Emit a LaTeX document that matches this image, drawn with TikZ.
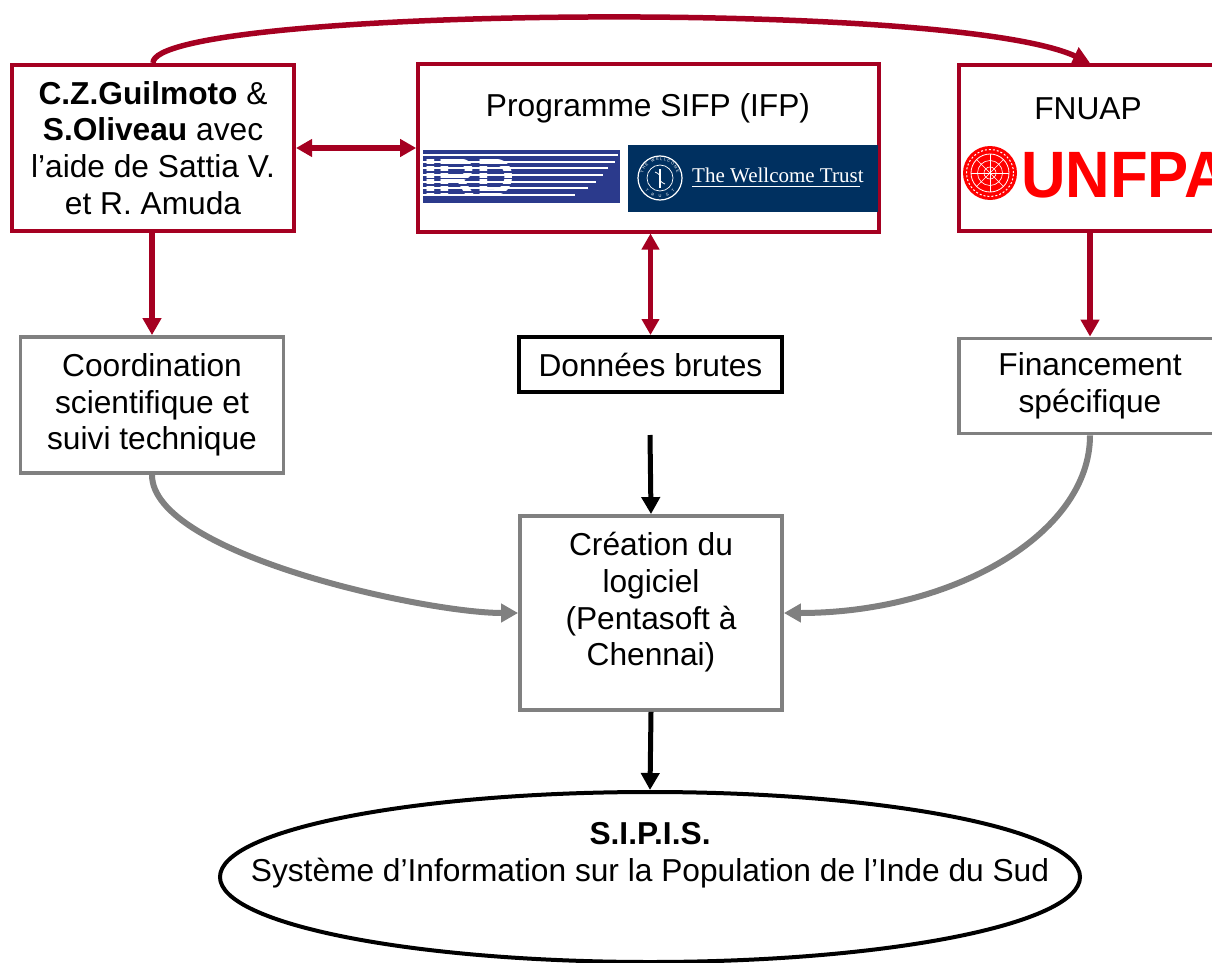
\documentclass[tikz,border=0pt]{standalone}
\usepackage{fontspec}
\usepackage{graphicx}
\setmainfont{Liberation Sans}
\newfontfamily\wtfont{Liberation Serif}
\usetikzlibrary{arrows.meta,shapes.geometric,decorations.text,calc}
\definecolor{dred}{RGB}{165,0,33}
\definecolor{mgray}{RGB}{128,128,128}
\definecolor{irdblue}{RGB}{43,58,140}
\definecolor{wtnavy}{RGB}{0,48,96}
\definecolor{unred}{RGB}{255,0,0}
\begin{document}
\begin{tikzpicture}[x=1pt,y=1pt,
  every node/.style={font=\fontsize{31.7}{36.7}\selectfont, inner sep=0pt},
  redbox/.style={draw=dred, line width=4pt, fill=white, rectangle},
  graybox/.style={draw=mgray, line width=3.8pt, fill=white, rectangle},
  blackbox/.style={draw=black, line width=4pt, fill=white, rectangle},
  mytip/.style={-{Triangle[length=17pt,width=18pt]}},
  redarrow/.style={draw=dred, line width=5.5pt, mytip},
  redboth/.style={draw=dred, line width=5.5pt, {Triangle[length=16pt,width=17pt]}-{Triangle[length=16pt,width=17pt]}},
  grayarrow/.style={draw=mgray, line width=6pt, mytip},
  blackarrow/.style={draw=black, line width=5pt, mytip},
]
\useasboundingbox (0,0) rectangle (1212,-963);
\clip (0,0) rectangle (1212,-963);

% ---- top row boxes
\node[redbox, minimum width=282pt, minimum height=166pt, align=center] (lb) at (153,-148)
  {\textbf{C.Z.Guilmoto} \&\\\textbf{S.Oliveau} avec\\l’aide de Sattia V.\\et R. Amuda};
\node[redbox, minimum width=461pt, minimum height=167pt] (mb) at (648.7,-148) {};
\node[redbox, minimum width=262pt, minimum height=166pt] (rb) at (1090,-148) {};

\node[anchor=base] (mbt) at (648,-117) {Programme SIFP (IFP)};
\node[anchor=base] (rbt) at (1088,-120) {FNUAP};

% ---- IRD logo
\fill[irdblue] (423,-150) rectangle (620,-203);
\foreach \yy/\xe in {155/618,161.7/615,168.3/608,175/603,181.7/596,188.3/588,195/575}{
  \draw[white, line width=1.8pt] (423,-\yy) -- (\xe,-\yy);
}
\node[anchor=base west, text=white, font=\bfseries\fontsize{53}{53}\selectfont] (ird) at (423,-195) {IRD};
\foreach \yy in {158.3,165,171.7,178.3,185,191.7}{
  \draw[irdblue, line width=1.6pt] (423,-\yy) -- (517,-\yy);
}

% ---- Wellcome Trust logo
\fill[wtnavy] (628,-145) rectangle (878,-212);
\draw[white, line width=1.2pt] (660,-178) circle (22);
\draw[white, line width=0.7pt] (660,-178) circle (13);
\draw[white, line width=1.2pt] (660,-169) -- (660,-188);
\draw[white, line width=0.8pt] (655,-172) .. controls (665,-176) and (655,-180) .. (665,-184);
\path[decorate, decoration={text along path, text align=fit to path,
  text={|\fontsize{4}{5}\selectfont\color{white}|THE WELLCOME}}]
  ($(660,-178)+(165:17.5)$) arc (165:15:17.5);
\path[decorate, decoration={text along path, text align=fit to path,
  text={|\fontsize{4}{5}\selectfont\color{white}|TRUST}}]
  ($(660,-178)+(220:19.5)$) arc (220:320:19.5);
\node[anchor=base west, text=white, font=\wtfont\fontsize{21}{21}\selectfont] (wt) at (692,-182) {The Wellcome Trust};
\draw[white, line width=0.8pt] (692,-186) -- (860,-186);

% ---- UNFPA logo
\fill[unred] (990,-173) circle (27);
\draw[white, line width=1pt, dash pattern=on 2pt off 2pt] (990,-173) circle (23.5);
\draw[white, line width=0.8pt] (990,-173) circle (19);
\draw[white, line width=0.6pt] (990,-173) circle (12.5);
\draw[white, line width=0.6pt] (990,-173) circle (6);
\foreach \a in {0,45,...,315}{\draw[white, line width=0.6pt] (990,-173) -- ++(\a:19);}
\node[anchor=base west, text=unred, font=\bfseries\fontsize{65.6}{65.6}\selectfont] (unfpa) at (1021,-197) {\scalebox{0.94}[1]{UNFPA}};

% ---- second row
\node[graybox, minimum width=263pt, minimum height=136pt, align=center] (co) at (152,-405)
  {Coordination\\scientifique et\\suivi technique};
\node[blackbox, minimum width=263pt, minimum height=55pt] (don) at (650.5,-364.5) {Données brutes};
\node[graybox, minimum width=262pt, minimum height=95pt, align=center] (fin) at (1090,-386)
  {Financement\\spécifique};

% ---- creation
\node[graybox, minimum width=262pt, minimum height=194pt] (cre) at (651,-613) {};
\node[align=center] (cret) at (651,-602.5) {Création du\\logiciel\\(Pentasoft à\\Chennai)};

% ---- SIPIS
\node[draw=black, line width=4pt, ellipse, minimum width=860pt, minimum height=170pt, inner sep=0pt] (sipis) at (650,-877) {};
\node[align=center] (sipist) at (650,-855) {\textbf{S.I.P.I.S.}\\Système d’Information sur la Population de l’Inde du Sud};

% ---- connectors
\draw[redarrow] (lb.north) .. controls (152,-8) and (950,2) .. (rb.north);
\draw[redboth] (lb.east) -- (mb.west);
\draw[redboth] (mb.south -| don.north) -- (don.north);
\draw[redarrow] (lb.south -| co.north) -- (co.north);
\draw[redarrow] (rb.south) -- (fin.north);
\draw[grayarrow] (co.south) .. controls +(0,-79) and +(-93,0) .. (cre.west);
\draw[grayarrow] (fin.south) .. controls +(0,-99) and +(168,0) .. (cre.east);
\coordinate (bs) at (650,-435);
\draw[blackarrow] (bs) -- (cre.north);
\draw[blackarrow] (cre.south) -- (sipis.north);
\end{tikzpicture}
\end{document}
